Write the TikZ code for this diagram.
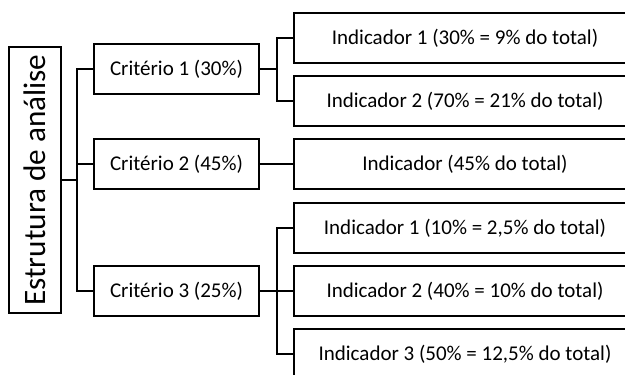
\documentclass[tikz,border=0pt]{standalone}
\usepackage{fontspec}
\setmainfont{Carlito}
\usepackage{tikz}
\usetikzlibrary{positioning}

\begin{document}
\begin{tikzpicture}
[x=0.5pt,y=-0.5pt,line width=1pt,
 raiz/.style={draw,rotate=90,minimum width=133pt,minimum height=26pt,inner sep=0pt,font=\fontsize{15.6}{18}\selectfont},
 criterio/.style={draw,minimum width=82.5pt,minimum height=25pt,inner sep=0pt,font=\fontsize{10.5}{12}\selectfont},
 indicador/.style={draw,anchor=west,minimum width=171pt,minimum height=25pt,inner sep=0pt,font=\fontsize{10.5}{12}\selectfont}]
\useasboundingbox (0,0) rectangle (625,374);
\clip (0,0) rectangle (625,374);

\node[raiz] (raiz) at (35,180) {Estrutura de análise};

\node[criterio] (c1) at (176.5,69) {Critério 1 (30\%)};
\node[criterio] (c2) at (176.5,164) {Critério 2 (45\%)};
\node[criterio] (c3) at (176.5,291) {Critério 3 (25\%)};

% caixas cortadas na margem direita
\node[indicador] (i11) at (293,38) {Indicador 1 (30\% = 9\% do total)};
\node[indicador] (i12) at (293,101) {Indicador 2 (70\% = 21\% do total)};
\node[indicador] (i2) at (293,164) {Indicador (45\% do total)};
\node[indicador] (i31) at (293,228) {Indicador 1 (10\% = 2,5\% do total)};
\node[indicador] (i32) at (293,291) {Indicador 2 (40\% = 10\% do total)};
\node[indicador] (i33) at (293,354) {Indicador 3 (50\% = 12,5\% do total)};

\coordinate (j0) at (77,180);
\coordinate (j1) at (277,69);
\coordinate (j3) at (277,291);

\draw (raiz.south) -- (j0);
\draw (c1.west) -| (j0) |- (c3.west);
\draw (c2.west) -- (c2.west -| j0);

\draw (c1.east) -- (j1);
\draw (i11.west) -| (j1) |- (i12.west);
\draw (c2.east) -- (i2.west);
\draw (c3.east) -- (i32.west);
\draw (i31.west) -| (j3) |- (i33.west);
\end{tikzpicture}
\end{document}
